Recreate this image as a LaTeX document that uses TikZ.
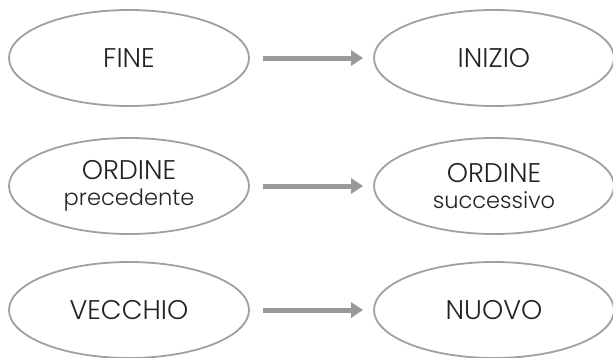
\documentclass[tikz,border=0pt]{standalone}
\usepackage{fontspec}
\setmainfont{Poppins}[UprightFont={* Light}]
\usetikzlibrary{shapes.geometric,arrows.meta}
\definecolor{edgegray}{HTML}{A0A0A0}
\definecolor{arrowgray}{HTML}{999999}
\definecolor{txt}{HTML}{222222}
\tikzset{
  oval/.style={ellipse, draw=edgegray, line width=1.8pt, minimum width=240pt, minimum height=96pt,
    inner sep=0pt, text=txt, font=\fontsize{27}{26}\selectfont, align=center},
  flow/.style={draw=arrowgray, line width=5pt, -{Triangle[length=12pt,width=15pt]},
    shorten <=13pt, shorten >=10pt}
}
\newcommand{\lowline}[1]{{\fontsize{22.5}{26}\selectfont #1}}
\begin{document}
\begin{tikzpicture}[x=1pt,y=-1pt]
\useasboundingbox (0,0) rectangle (613,357);
\node[oval] (a1) at (129,58) {FINE};
\node[oval] (b1) at (494,58) {INIZIO};
\node[oval] (a2) at (129,186) {ORDINE\\\lowline{precedente}};
\node[oval] (b2) at (494,186) {ORDINE\\\lowline{successivo}};
\node[oval] (a3) at (129,310) {VECCHIO};
\node[oval] (b3) at (494,310) {NUOVO};
\draw[flow] (a1) -- (b1);
\draw[flow] (a2) -- (b2);
\draw[flow] (a3) -- (b3);
\end{tikzpicture}
\end{document}
